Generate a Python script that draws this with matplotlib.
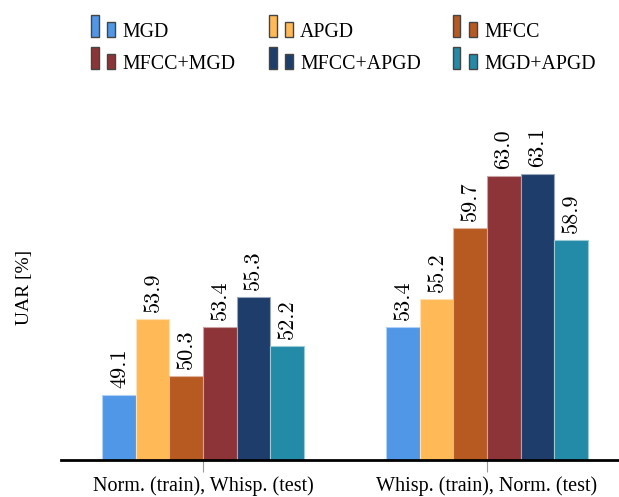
import matplotlib.pyplot as plt
import numpy as np
from matplotlib.colors import to_rgb
from matplotlib.patches import Rectangle

groups = ["Norm. (train), Whisp. (test)", "Whisp. (train), Norm. (test)"]
features = ["MGD", "APGD", "MFCC", "MFCC+MGD", "MFCC+APGD", "MGD+APGD"]
uar = {
    "MGD": [49.1, 53.4],
    "APGD": [53.9, 55.2],
    "MFCC": [50.3, 59.7],
    "MFCC+MGD": [53.4, 63.0],
    "MFCC+APGD": [55.3, 63.1],
    "MGD+APGD": [52.2, 58.9],
}
colors = ["#5097E8", "#FFB957", "#B75A22", "#8C3437", "#1F3D6A", "#238AA7"]

TEXT_FONT = ["Liberation Serif", "DejaVu Serif"]
NUM_FONT = ["cmr10", "DejaVu Serif"]


def lighten(c, f=0.5):
    r, g, b = to_rgb(c)
    return (r + (1 - r) * f, g + (1 - g) * f, b + (1 - b) * f)


W, H = 619, 497
fig = plt.figure(figsize=(W / 100, H / 100), dpi=100)
ax = fig.add_axes([61 / W, 1 - 460 / H, (629 - 61) / W, (460 - 144) / H])

x = np.arange(len(groups))
width = 0.118
for i, (feat, col) in enumerate(zip(features, colors)):
    offs = (i - (len(features) - 1) / 2) * width
    bars = ax.bar(x + offs, uar[feat], width, color=col,
                  edgecolor=lighten(col, 0.55), linewidth=0.8)
    for b, v in zip(bars, uar[feat]):
        ax.annotate(f"{v:.1f}", (b.get_x() + b.get_width() / 2, v),
                    xytext=(0, 5), textcoords="offset points",
                    rotation=90, ha="center", va="bottom",
                    fontsize=16, family=NUM_FONT, annotation_clip=False)

ax.set_xlim(-0.5, 1.5)
ax.set_ylim(45, 65)
ax.set_xticks(x)
ax.set_xticklabels(groups, family=TEXT_FONT, fontsize=14.5)
ax.tick_params(axis="x", length=8.5, width=0.8, color="#999999", pad=3)
ax.set_yticks([])
for s in ["top", "right", "left"]:
    ax.spines[s].set_visible(False)
ax.spines["bottom"].set_linewidth(2)

fig.text(25 / W, 1 - 287 / H, "UAR [%]", rotation=90, ha="center", va="center",
         family=TEXT_FONT, fontsize=14)

# two-bar legend in pgfplots style
col_x = [91, 269, 453]
row_base = [37, 69]
for i, (feat, col) in enumerate(zip(features, colors)):
    cx = col_x[i % 3]
    by = row_base[i // 3]
    for dx, h in [(0, 22), (16, 15)]:
        fig.patches.append(Rectangle(((cx + dx) / W, 1 - by / H), 7.5 / W, h / H,
                                     transform=fig.transFigure, facecolor=col,
                                     edgecolor="#444444", linewidth=1))
    fig.text((cx + 31) / W, 1 - by / H, feat, ha="left", va="baseline",
             family=TEXT_FONT, fontsize=14.3)

fig.savefig("out.png", dpi=100)
